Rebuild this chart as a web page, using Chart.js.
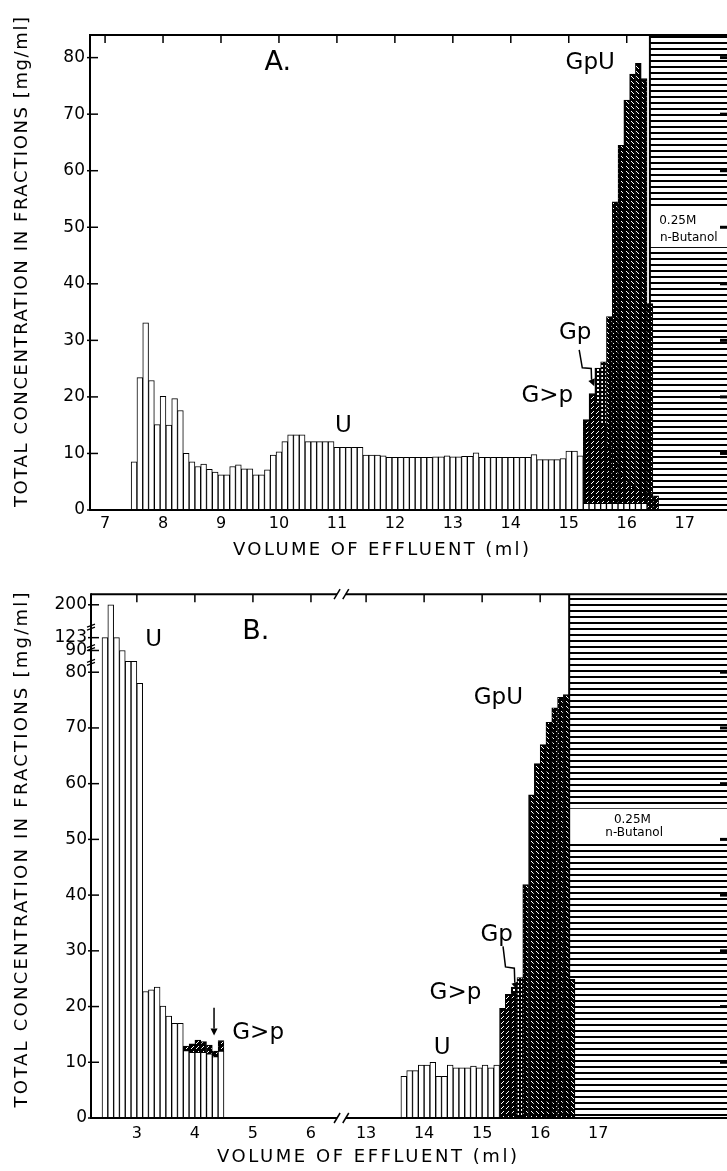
<!DOCTYPE html>
<html><head><meta charset="utf-8">
<script src="https://cdn.jsdelivr.net/npm/chart.js@4/dist/chart.umd.min.js"></script>
<style>
html,body{margin:0;padding:0;background:#fff;}
#wrapA{position:absolute;left:0;top:0;width:727px;height:580px;}
#wrapB{position:absolute;left:0;top:580px;width:727px;height:591px;}
canvas{display:block}
</style></head><body>
<div id="wrapA"><canvas id="cA" width="727" height="580"></canvas></div>
<div id="wrapB"><canvas id="cB" width="727" height="591"></canvas></div>
<script>
// ================= DATA =================
const FRACTION_ML = 0.1;

// ---- Panel A ----
const aXTicks = [7, 8, 9, 10, 11, 12, 13, 14, 15, 16, 17];
const aYTicks = [0, 10, 20, 30, 40, 50, 60, 70, 80];
const aU_first = 7.5;   // centre of first U fraction (ml)
const aU = [8.5, 23.4, 33.1, 22.9, 15.1, 20.1, 15.0, 19.7, 17.6, 10.0,
  8.5, 7.7, 8.1, 7.2, 6.7, 6.2, 6.2, 7.7, 8.0, 7.3,
  7.3, 6.2, 6.2, 7.1, 9.7, 10.3, 12.1, 13.3, 13.3, 13.3,
  12.1, 12.1, 12.1, 12.1, 12.1, 11.1, 11.1, 11.1, 11.1, 11.1,
  9.7, 9.7, 9.7, 9.6, 9.3, 9.3, 9.3, 9.3, 9.3, 9.3,
  9.3, 9.3, 9.4, 9.4, 9.6, 9.4, 9.4, 9.5, 9.5, 10.1,
  9.3, 9.3, 9.3, 9.3, 9.3, 9.3, 9.3, 9.3, 9.3, 9.8,
  8.9, 8.9, 8.9, 8.9, 9.1, 10.4, 10.4, 9.6, 1.2, 1.2,
  1.2, 1.2, 1.2, 1.2, 1.2, 1.2, 1.2, 1.2, 1.2];
const aGtp_x = [15.3, 15.4, 15.5, 15.6, 15.7, 15.8, 15.9, 16.0, 16.1, 16.2, 16.3, 16.4, 16.5];
const aGtp   = [16.0, 20.6, 19.0, 15.0, 11.0, 8.0, 6.0, 5.0, 4.0, 3.5, 3.0, 3.0, 2.5];
const aGp_x  = [15.5, 15.6];
const aGp    = [25.1, 26.2];
const aGpU_x = [15.7, 15.8, 15.9, 16.0, 16.1, 16.2, 16.3, 16.4];
const aGpU   = [34.2, 54.5, 64.5, 72.5, 77.1, 79.0, 76.3, 36.5];
const aButanolStart = 16.4;

// ---- Panel B ----
const bXTicks = [3, 4, 5, 6, 13, 14, 15, 16, 17];
const bYTicks = [0, 10, 20, 30, 40, 50, 60, 70, 80, 90, 123, 200];
const bUleft_first = 2.45;
const bUleft = [123, 200, 123, 90, 85, 85, 78, 22.7, 23.0, 23.5, 20.1, 18.3, 17.0, 17.0,
  12.1, 11.8, 11.8, 11.8, 11.5, 11.0, 12.0];
const bUright_first = 13.65;
const bUright = [7.5, 8.5, 8.5, 9.5, 9.5, 10.0, 7.5, 7.5, 9.5, 9.0, 9.0, 9.0, 9.3, 9.0, 9.5, 9.0, 9.5];
const bGtp_x = [3.85, 3.95, 4.05, 4.15, 4.25, 4.35, 4.45, 15.35, 15.45, 15.55];
const bGtp   = [12.9, 13.3, 14.0, 13.7, 13.1, 12.0, 13.9, 19.7, 22.2, 22.5];
const bGp_x  = [15.55, 15.65];
const bGp    = [23.5, 25.2];
const bGpU_x = [15.75, 15.85, 15.95, 16.05, 16.15, 16.25, 16.35, 16.45, 16.55];
const bGpU   = [41.9, 58.0, 63.6, 67.0, 71.0, 73.6, 75.5, 76.0, 24.9];
const bButanolStart = 16.5;

// ================= HELPERS =================
const FONT = "'DejaVu Sans', 'Liberation Sans', sans-serif";
function seq(first, n) { return Array.from({length: n}, (_, i) => +(first + i * FRACTION_ML).toFixed(2)); }
function pts(xs, ys) { return xs.map((x, i) => ({x: x, y: ys[i]})); }

function tile(w, h, bg, fg, cells) {
  const c = document.createElement('canvas'); c.width = w; c.height = h;
  const g = c.getContext('2d');
  g.fillStyle = bg; g.fillRect(0, 0, w, h);
  g.fillStyle = fg;
  cells.forEach(([x, y, cw, ch]) => g.fillRect(x, y, cw || 1, ch || 1));
  return g.createPattern(c, 'repeat');
}
const PAT = {
  gtp: tile(5, 5, '#000', '#fff', [[1, 3], [2, 2], [3, 1]]),
  gpu: tile(5, 5, '#000', '#fff', [[1, 1], [2, 2], [3, 3]]),
  gp: tile(4, 4, '#000', '#fff', [[1, 1, 2, 2]]),
  butanol: tile(6, 6, '#fff', '#000', [[0, 0, 6, 2]])
};

// piecewise-linear ("broken") axis
class BrokenScale extends Chart.LinearScale {
  _toUnit(v) {
    const k = this.options.knots;
    let i = 0;
    while (i < k.length - 2 && v > k[i + 1][0]) i++;
    const [v0, u0] = k[i], [v1, u1] = k[i + 1];
    return u0 + (v - v0) * (u1 - u0) / (v1 - v0);
  }
  _fromUnit(u) {
    const k = this.options.knots;
    let i = 0;
    while (i < k.length - 2 && u > k[i + 1][1]) i++;
    const [v0, u0] = k[i], [v1, u1] = k[i + 1];
    return v0 + (u - u0) * (v1 - v0) / (u1 - u0);
  }
  getPixelForValue(value) {
    const a = this._toUnit(this.min), b = this._toUnit(this.max);
    return this.getPixelForDecimal((this._toUnit(value) - a) / (b - a));
  }
  getValueForPixel(pixel) {
    const a = this._toUnit(this.min), b = this._toUnit(this.max);
    return this._fromUnit(a + this.getDecimalForPixel(pixel) * (b - a));
  }
}
BrokenScale.id = 'broken';
BrokenScale.defaults = {};
Chart.register(BrokenScale);

function spacedText(ctx, text, cx, cy, targetW, font, rot) {
  ctx.save();
  ctx.font = font;
  ctx.letterSpacing = '0px';
  const w = ctx.measureText(text).width;
  const ls = Math.max(0, (targetW - w) / (text.length - 1));
  ctx.letterSpacing = ls.toFixed(2) + 'px';
  ctx.translate(cx, cy);
  if (rot) ctx.rotate(rot);
  ctx.textAlign = 'center'; ctx.textBaseline = 'middle';
  ctx.fillStyle = '#000';
  ctx.fillText(text, ls / 2, 0);
  ctx.restore();
}

const framePlugin = {
  id: 'frame',
  beforeDatasetsDraw(chart, _a, o) {
    const {ctx, chartArea: ca} = chart;
    const xs = chart.scales.x, ys = chart.scales.y;
    const xb = xs.getPixelForValue(o.butanolStart);
    ctx.save();
    ctx.fillStyle = PAT.butanol;
    ctx.fillRect(xb, ca.top, ca.right - xb, ca.bottom - ca.top);
    const t = ys.getPixelForValue(o.boxTop), b = ys.getPixelForValue(o.boxBottom);
    ctx.fillStyle = '#fff';
    ctx.fillRect(xb, t, ca.right - xb, b - t);
    ctx.strokeStyle = '#000'; ctx.lineWidth = 2;
    ctx.beginPath(); ctx.moveTo(xb, ca.top); ctx.lineTo(xb, ca.bottom); ctx.stroke();
    ctx.restore();
  },
  afterDatasetsDraw(chart, _a, o) {
    const {ctx, chartArea: ca} = chart;
    const xs = chart.scales.x, ys = chart.scales.y;
    const line = (x1, y1, x2, y2) => { ctx.beginPath(); ctx.moveTo(x1, y1); ctx.lineTo(x2, y2); ctx.stroke(); };
    ctx.save();
    ctx.strokeStyle = '#000'; ctx.fillStyle = '#000';
    ctx.lineWidth = 2;
    line(ca.left, ca.top - 1, ca.left, ca.bottom + 1);
    let segs = [[ca.left, ca.right]];
    if (o.xBreak) {
      const p1 = xs.getPixelForValue(o.xBreak[0]), p2 = xs.getPixelForValue(o.xBreak[1]);
      segs = [[ca.left, p1], [p2, ca.right]];
      ctx.lineWidth = 1.5;
      [p1, p2].forEach(p => { [ca.top, ca.bottom].forEach(yy => line(p - 3, yy + 5, p + 3, yy - 5)); });
      ctx.lineWidth = 2;
    }
    segs.forEach(([a, b]) => { line(a, ca.bottom, b, ca.bottom); line(a, ca.top, b, ca.top); });
    // ticks
    const xb = xs.getPixelForValue(o.butanolStart);
    ctx.lineWidth = 1.5;
    ys.ticks.forEach(t => { const p = ys.getPixelForValue(t.value); line(ca.left - 3, p, ca.left + 8, p); });
    xs.ticks.forEach(t => { const p = xs.getPixelForValue(t.value); if (p < xb - 3) line(p, ca.top, p, ca.top + 8); });
    ctx.lineWidth = 3;
    ys.ticks.forEach(t => { if (t.value > 0 && t.value <= 80) { const p = ys.getPixelForValue(t.value); line(ca.right - 7, p, ca.right, p); } });
    // y-axis break marks
    ctx.lineWidth = 1.2;
    (o.yBreaks || []).forEach(v => {
      const p = ys.getPixelForValue(v);
      line(ca.left - 4, p + 1, ca.left + 4, p - 2);
      line(ca.left - 4, p + 4, ca.left + 4, p + 1);
    });
    // labels
    ctx.textAlign = 'center'; ctx.textBaseline = 'middle';
    (o.labels || []).forEach(l => {
      ctx.font = l.s + 'px ' + FONT;
      ctx.fillText(l.t, xs.getPixelForValue(l.x), ys.getPixelForValue(l.y));
    });
    // arrows
    (o.arrows || []).forEach(a => {
      const x1 = xs.getPixelForValue(a.x1), y1 = ys.getPixelForValue(a.y1);
      const x2 = xs.getPixelForValue(a.x2), y2 = ys.getPixelForValue(a.y2);
      const dx = x2 - x1, dy = y2 - y1, L = Math.hypot(dx, dy);
      const ux = dx / L, uy = dy / L, nx = -uy, ny = ux;
      ctx.lineWidth = 1.5;
      ctx.beginPath(); ctx.moveTo(x1, y1);
      if (a.zig) {
        const mx = x1 + dx * 0.45, my = y1 + dy * 0.45;
        ctx.lineTo(mx + nx * 4, my + ny * 4);
        ctx.lineTo(mx - nx * 4 + ux * 4, my - ny * 4 + uy * 4);
      }
      const hx = x2 - ux * 7, hy = y2 - uy * 7;
      ctx.lineTo(hx, hy); ctx.stroke();
      ctx.beginPath(); ctx.moveTo(x2, y2);
      ctx.lineTo(hx + nx * 3.5, hy + ny * 3.5); ctx.lineTo(hx - nx * 3.5, hy - ny * 3.5);
      ctx.closePath(); ctx.fill();
    });
    ctx.restore();
    // axis titles
    const tf = '18px ' + FONT;
    spacedText(ctx, 'TOTAL CONCENTRATION IN FRACTIONS [mg/ml]', o.yTitle[0], o.yTitle[1], o.yTitle[2], tf, -Math.PI / 2);
    spacedText(ctx, 'VOLUME OF EFFLUENT (ml)', o.xTitle[0], o.xTitle[1], o.xTitle[2], tf, 0);
  }
};

function makeChart(id, cfg) {
  const datasets = [
    {label: 'U', data: cfg.U, backgroundColor: '#fff', order: 1},
    {label: 'G>p', data: cfg.Gtp, backgroundColor: PAT.gtp, order: 2},
    {label: 'Gp', data: cfg.Gp, backgroundColor: PAT.gp, order: 3},
    {label: 'GpU', data: cfg.GpU, backgroundColor: PAT.gpu, order: 4}
  ];
  const tickFont = {family: FONT, size: 16};
  return new Chart(document.getElementById(id), {
    type: 'bar',
    data: {datasets},
    plugins: [framePlugin],
    options: {
      responsive: false, animation: false, devicePixelRatio: 1,
      layout: {padding: {top: cfg.padTop, left: 0, right: 0, bottom: 0}},
      datasets: {bar: {grouped: false, barPercentage: 1, categoryPercentage: 1,
        borderWidth: 1, borderColor: '#000', borderSkipped: 'start'}},
      plugins: {legend: {display: false}, tooltip: {enabled: false}, frame: cfg.frame},
      scales: {
        x: Object.assign({
          bounds: 'data', offset: false, min: cfg.xMin, max: cfg.xMax,
          grid: {display: false, drawTicks: false, offset: false}, border: {display: false},
          afterBuildTicks: s => { s.ticks = cfg.xTicks.map(v => ({value: v})); },
          afterFit: s => { s.height = cfg.xAxisH; },
          ticks: {autoSkip: false, maxRotation: 0, minRotation: 0, padding: cfg.xPad, color: '#000', font: tickFont,
            callback: v => String(v)}
        }, cfg.xType),
        y: Object.assign({
          bounds: 'data', min: 0, max: cfg.yMax,
          grid: {display: false, drawTicks: false}, border: {display: false},
          afterBuildTicks: s => { s.ticks = cfg.yTicks.map(v => ({value: v})); },
          afterFit: s => { s.width = cfg.yAxisW; },
          ticks: {autoSkip: false, padding: cfg.yPad, color: '#000', font: {family: FONT, size: 17},
            callback: v => String(v)}
        }, cfg.yType)
      }
    }
  });
}

// ---- Panel A chart ----
makeChart('cA', {
  U: pts(seq(aU_first, aU.length), aU),
  Gtp: pts(aGtp_x, aGtp), Gp: pts(aGp_x, aGp), GpU: pts(aGpU_x, aGpU),
  xTicks: aXTicks, yTicks: aYTicks,
  xMin: 6.74, xMax: 17.73, yMax: 84,
  xType: {type: 'linear'}, yType: {type: 'linear'},
  padTop: 35, xAxisH: 70, yAxisW: 90, xPad: 4, yPad: 5,
  frame: {
    butanolStart: aButanolStart, boxTop: 53.4, boxBottom: 46.5,
    yTitle: [22, 262, 490], xTitle: [381, 550, 296],
    labels: [
      {t: 'A.', x: 9.98, y: 79.0, s: 27},
      {t: 'U', x: 11.11, y: 14.9, s: 23},
      {t: 'GpU', x: 15.37, y: 79.0, s: 23},
      {t: 'Gp', x: 15.11, y: 31.3, s: 23},
      {t: 'G>p', x: 14.63, y: 20.2, s: 23},
      {t: '0.25M', x: 16.88, y: 51.1, s: 12},
      {t: 'n-Butanol', x: 17.07, y: 48.1, s: 12}
    ],
    arrows: [{x1: 15.18, y1: 28.3, x2: 15.44, y2: 21.9, zig: true}]
  }
});

// ---- Panel B chart ----
makeChart('cB', {
  U: pts(seq(bUleft_first, bUleft.length).concat(seq(bUright_first, bUright.length)), bUleft.concat(bUright)),
  Gtp: pts(bGtp_x, bGtp), Gp: pts(bGp_x, bGp), GpU: pts(bGpU_x, bGpU),
  xTicks: bXTicks, yTicks: bYTicks,
  xMin: 2.21, xMax: 19.22, yMax: 226,
  xType: {type: 'broken', knots: [[2.21, 0], [6.45, 246], [12.65, 254.7], [19.22, 635.8]]},
  yType: {type: 'broken', knots: [[0, 0], [80, 80], [90, 83.9], [123, 86.2], [200, 92.1], [226, 94.0]]},
  padTop: 4, xAxisH: 53, yAxisW: 91, xPad: 6, yPad: 4,
  frame: {
    butanolStart: bButanolStart, boxTop: 55.5, boxBottom: 49.6,
    xBreak: [6.45, 12.65], yBreaks: [85, 100, 150],
    yTitle: [22, 270, 515], xTitle: [367, 577, 300],
    labels: [
      {t: 'B.', x: 5.05, y: 137, s: 27},
      {t: 'U', x: 3.29, y: 116, s: 23},
      {t: 'G>p', x: 5.09, y: 15.3, s: 23},
      {t: 'GpU', x: 15.28, y: 75.4, s: 23},
      {t: 'Gp', x: 15.25, y: 32.8, s: 23},
      {t: 'G>p', x: 14.54, y: 22.4, s: 23},
      {t: 'U', x: 14.31, y: 12.6, s: 23},
      {t: '0.25M', x: 17.59, y: 53.5, s: 12},
      {t: 'n-Butanol', x: 17.62, y: 51.1, s: 12}
    ],
    arrows: [
      {x1: 15.36, y1: 30.8, x2: 15.6, y2: 23.1, zig: true},
      {x1: 4.33, y1: 19.8, x2: 4.33, y2: 14.8, zig: false}
    ]
  }
});
</script>
</body></html>
